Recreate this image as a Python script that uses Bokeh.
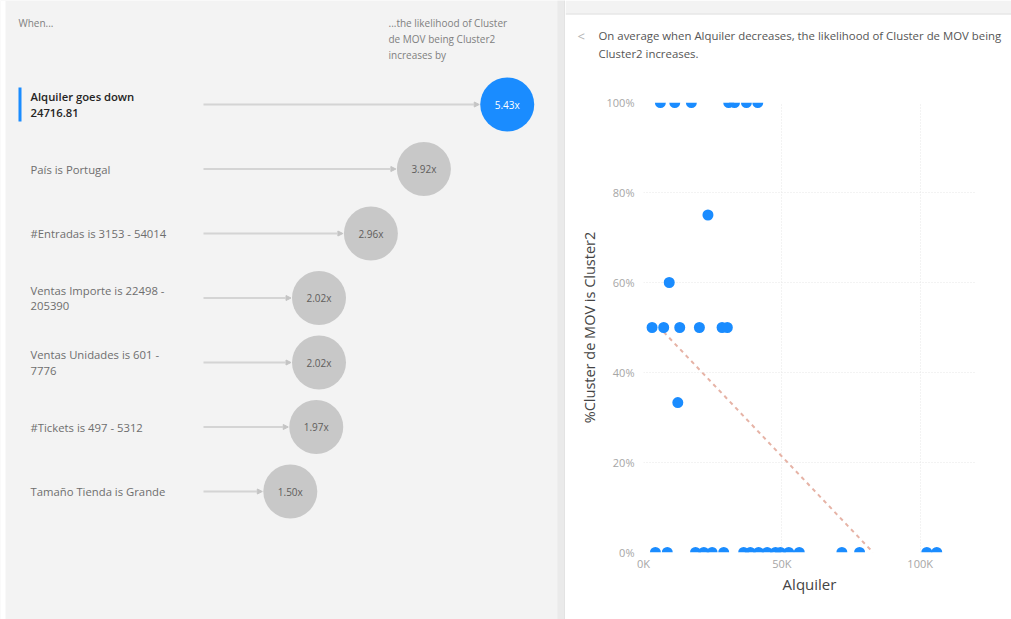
import math
from bokeh.plotting import figure
from bokeh.models import (ColumnDataSource, Range1d, Label, BoxAnnotation, Arrow, NormalHead,
                          FixedTicker, CustomJSTickFormatter, PrintfTickFormatter)
from bokeh.layouts import row, column
from bokeh.embed import file_html
from bokeh.resources import INLINE
from bokeh.core.properties import value

# ---- Key influencers: what raises the likelihood of "Cluster de MOV" being Cluster2
influencers = [
    "Alquiler goes down\n24716.81",
    "País is Portugal",
    "#Entradas is 3153 - 54014",
    "Ventas Importe is 22498 -\n205390",
    "Ventas Unidades is 601 -\n7776",
    "#Tickets is 497 - 5312",
    "Tamaño Tienda is Grande",
]
likelihood = [5.43, 3.92, 2.96, 2.02, 2.02, 1.97, 1.50]
selected = 0

# ---- Detail scatter: Alquiler vs %Cluster de MOV is Cluster2
alquiler = [
    6100, 11300, 17300, 30800, 32900, 37200, 41300,          # 100%
    23300,                                                   # 75%
    9300,                                                    # 60%
    3100, 7300, 13100, 20200, 28400, 30300,                  # 50%
    12400,                                                   # 33%
    4300, 8600, 18800, 21800, 24800, 29000, 36200, 38600,    # 0%
    41600, 44700, 47700, 49500, 52500, 56300, 71700, 78100,
    102400, 106000,
]
pct_cluster2 = (
    [100] * 7 + [75] + [60] + [50] * 6 + [33.33] + [0] * 18
)
trend_alquiler = [7300, 83000]
trend_pct = [49, 0]

header_text = ["On average when Alquiler decreases, the likelihood of Cluster de MOV being",
               "Cluster2 increases."]

x_ticks = [0, 50000, 100000]
y_ticks = [0, 20, 40, 60, 80, 100]
X_MAX, Y_MAX = 120000, 100

FONT = "Open Sans"
BLUE = "#1a8cff"
GREY_BUBBLE = "#c8c8c8"
PANEL_BG = "#f3f3f3"

# ================= left panel =================
W_L, H = 565, 619
X0_PX, PX_PER_UNIT = 207.0, 55.2       # horizontal scale of the multiplier axis
ROW0_PX, ROW_STEP = 104.0, 64.5        # vertical placement of the rows


def lx(px):
    return (px - X0_PX) / PX_PER_UNIT


def ly(py):
    return (py - ROW0_PX) / ROW_STEP


left = figure(width=W_L, height=H, x_range=Range1d(lx(0), lx(W_L)),
              y_range=Range1d(ly(H), ly(0)), output_backend="svg",
              toolbar_location=None, min_border=0, title=None,
              x_axis_location=None, y_axis_location=None)
left.frame_align = False
left.grid.visible = False
left.outline_line_color = None
left.background_fill_color = PANEL_BG
left.border_fill_color = PANEL_BG

left.add_layout(BoxAnnotation(left=lx(0), right=lx(5), fill_color="white",
                              fill_alpha=1, line_color=None))
left.add_layout(BoxAnnotation(left=lx(557), right=lx(565), fill_color="#eaeaea",
                              fill_alpha=1, line_color=None))
left.add_layout(BoxAnnotation(left=lx(564), right=lx(565), fill_color="#dcdcdc",
                              fill_alpha=1, line_color=None))

left.add_layout(Label(x=lx(18), y=ly(22), text="When...", text_font=FONT,
                      text_font_size="10px", text_color="#808080", text_baseline="middle"))
for k, line in enumerate(["...the likelihood of Cluster", "de MOV being Cluster2", "increases by"]):
    left.add_layout(Label(x=lx(388), y=ly(22 + 16 * k), text=line, text_font=FONT,
                          text_font_size="10px", text_color="#808080",
                          text_baseline="middle"))

rows = list(range(len(influencers)))

# accent bar beside the selected influencer
left.add_layout(BoxAnnotation(left=lx(18), right=lx(21),
                              top=selected - 17 / ROW_STEP, bottom=selected + 17 / ROW_STEP,
                              fill_color=BLUE, fill_alpha=1, line_color=None))

bubble_r = 27
arrows = ColumnDataSource(dict(
    x0=[lx(203)] * len(rows),
    x1=[v - (bubble_r + 1) / PX_PER_UNIT for v in likelihood],
    y=rows,
))
left.add_layout(Arrow(end=NormalHead(size=5, fill_color="#c4c4c4", line_color="#c4c4c4"),
                      x_start="x0", y_start="y", x_end="x1", y_end="y", source=arrows,
                      line_color="#d4d4d4", line_width=2))

others = [i for i in rows if i != selected]
lab = ColumnDataSource(dict(x=[lx(30)] * len(others), y=others,
                            text=[influencers[i] for i in others]))
left.text(x="x", y="y", text="text", source=lab, text_color="#6e6e6e",
          text_font=value(FONT), text_font_size="11.3px",
          text_baseline="middle", text_line_height=1.05)
left.text(x=[lx(30)], y=[selected], text=[influencers[selected]], text_color="#252423",
          text_font=value("Open Sans SemiBold"), text_font_size="11.3px",
          text_baseline="middle", text_line_height=1.05)

bub = ColumnDataSource(dict(
    x=likelihood, y=rows,
    fill=[BLUE if i == selected else GREY_BUBBLE for i in rows],
    label=[f"{v:.2f}x" for v in likelihood],
    tcolor=["white" if i == selected else "#605e5c" for i in rows],
))
left.scatter(x="x", y="y", size=2 * bubble_r, source=bub, fill_color="fill", line_color=None)
left.text(x="x", y="y", text="label", source=bub, text_color="tcolor", text_font=value(FONT),
          text_font_size="10px", text_align="center", text_baseline="middle")

# ================= right panel =================
W_R = 1011 - W_L
HEAD_H = 89      # header band above the scatter
TOP = 13         # grey gap above the card

head = figure(width=W_R, height=HEAD_H, x_range=Range1d(0, W_R), y_range=Range1d(HEAD_H, 0),
              output_backend="svg", toolbar_location=None, min_border=0, title=None,
              x_axis_location=None, y_axis_location=None)
head.frame_align = False
head.grid.visible = False
head.outline_line_color = None
head.background_fill_color = "white"
head.border_fill_color = "white"
head.add_layout(BoxAnnotation(bottom=TOP, top=0, fill_color=PANEL_BG, fill_alpha=1,
                              line_color=None))
head.add_layout(BoxAnnotation(bottom=TOP + 1, top=TOP, fill_color="#dcdcdc", fill_alpha=1,
                              line_color=None))
head.text(x=[12], y=[35], text=["<"], text_font=value(FONT), text_font_size="13px",
          text_color="#b3b3b3", text_baseline="middle")
head.text(x=[33, 33], y=[35, 53], text=header_text, text_font=value(FONT),
          text_font_size="11.4px", text_color="#555555", text_baseline="middle")

FR_L, FR_R, FR_T, FR_B = 643, 975, 102, 552   # plot frame on the page
right = figure(width=W_R, height=H - HEAD_H, x_range=Range1d(0, X_MAX),
               y_range=Range1d(0, Y_MAX),
               output_backend="svg", toolbar_location=None, title=None,
               min_border_left=FR_L - W_L, min_border_right=1011 - FR_R,
               min_border_top=FR_T - HEAD_H, min_border_bottom=H - FR_B)
right.frame_align = False
right.outline_line_color = None
right.background_fill_color = "white"
right.border_fill_color = "white"

right.xaxis.ticker = FixedTicker(ticks=x_ticks)
right.yaxis.ticker = FixedTicker(ticks=y_ticks)
right.xaxis.formatter = CustomJSTickFormatter(code="return (tick / 1000).toFixed(0) + 'K';")
right.yaxis.formatter = PrintfTickFormatter(format="%d%%")
for ax in (right.xaxis, right.yaxis):
    ax.axis_line_color = None
    ax.major_tick_line_color = None
    ax.minor_tick_line_color = None
    ax.major_tick_out = 0
    ax.major_tick_in = 0
    ax.minor_tick_out = 0
    ax.major_label_text_font = FONT
    ax.major_label_text_font_size = "11px"
    ax.major_label_text_color = "#a6a6a6"
    ax.axis_label_text_font = FONT
    ax.axis_label_text_font_style = "normal"
    ax.axis_label_text_color = "#444444"
right.xaxis.axis_label = "Alquiler"
right.xaxis.axis_label_text_font_size = "15px"
right.xaxis.major_label_standoff = 3
right.xaxis.axis_label_standoff = 0
right.yaxis.axis_label = "%Cluster de MOV is Cluster2"
right.yaxis.axis_label_text_font_size = "14.5px"
right.yaxis.major_label_standoff = 9
right.yaxis.axis_label_standoff = 5

right.xgrid.ticker = FixedTicker(ticks=x_ticks)
right.ygrid.ticker = FixedTicker(ticks=y_ticks)
right.grid.grid_line_color = "#e6e6e6"
right.grid.grid_line_dash = "1 2"

right.line(trend_alquiler, trend_pct, line_color="#e6b3a6", line_width=2, line_dash="4 4")

# points lying on the frame edge only show the half inside the plot area
inner = [(a, p) for a, p in zip(alquiler, pct_cluster2) if 0 < p < Y_MAX]
edge = [(a, p) for a, p in zip(alquiler, pct_cluster2) if p <= 0 or p >= Y_MAX]
right.scatter([a for a, _ in inner], [p for _, p in inner], size=11,
              fill_color=BLUE, line_color=None)
right.wedge(x=[a for a, _ in edge], y=[p for _, p in edge], radius=5.5, radius_units="screen",
            start_angle=[math.pi if p >= Y_MAX else 0 for _, p in edge],
            end_angle=[2 * math.pi if p >= Y_MAX else math.pi for _, p in edge],
            fill_color=BLUE, line_color=None)

layout = row(left, column(head, right, spacing=0), spacing=0)
open("out.html", "w").write(file_html(layout, INLINE))
